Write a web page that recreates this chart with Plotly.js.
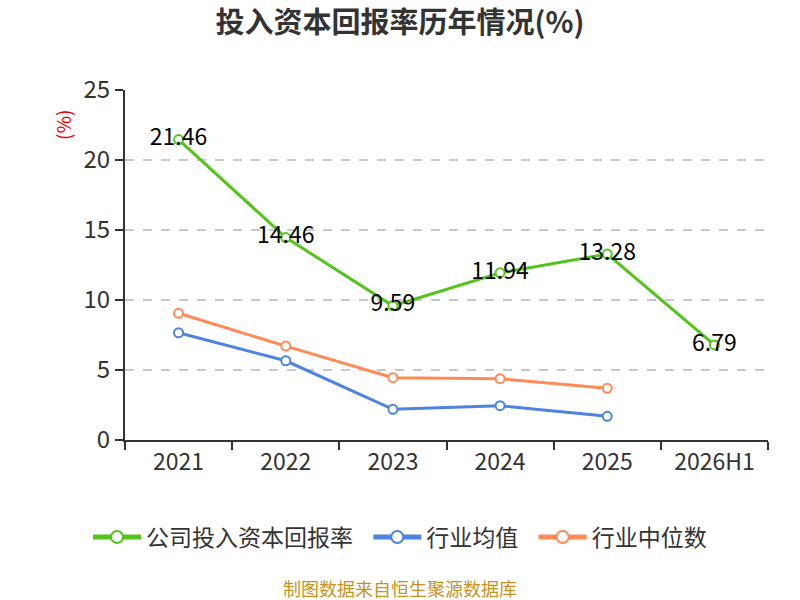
<!DOCTYPE html>
<html>
<head>
<meta charset="utf-8">
<script src="https://cdn.plot.ly/plotly-3.0.1.min.js"></script>
<style>
  html, body { margin: 0; padding: 0; background: #fff; }
  #chart { width: 800px; height: 600px; }
</style>
</head>
<body>
<div id="chart"></div>
<script>
const years = ['2021', '2022', '2023', '2024', '2025', '2026H1'];
const companyRoic = [21.46, 14.46, 9.59, 11.94, 13.28, 6.79];
const industryMean = [7.66, 5.66, 2.19, 2.45, 1.69, null];
const industryMedian = [9.05, 6.71, 4.45, 4.38, 3.69, null];

const font = '"Noto Sans CJK SC", "Noto Sans", sans-serif';
const gap = '\u00a0\u00a0';  // spacing between legend entries

function series(name, y, color, withText) {
    const t = {
        x: years,
        y: y,
        name: name,
        type: 'scatter',
        mode: withText ? 'lines+markers+text' : 'lines+markers',
        line: { color: color, width: 3 },
        marker: { symbol: 'circle', size: 9, color: '#fff', line: { color: color, width: 2 } },
        cliponaxis: false,
        hoverinfo: 'x+y',
    };
    if (withText) {
        t.text = y.map(v => v.toFixed(2));
        t.textposition = 'middle center';
        t.textfont = { family: font, size: 23, color: '#000' };
    }
    return t;
}

const data = [
    series('公司投入资本回报率' + gap, companyRoic, '#52c41a', true),
    series('行业均值' + gap, industryMean, '#4e83e0', false),
    series('行业中位数', industryMedian, '#ff8a55', false),
];

const layout = {
    width: 800,
    height: 600,
    margin: { l: 125, r: 32, t: 90, b: 160 },
    paper_bgcolor: '#fff',
    plot_bgcolor: '#fff',
    font: { family: font, color: '#333' },
    title: {
        text: '<b>投入资本回报率历年情况(%)</b>',
        font: { family: font, size: 29, color: '#333' },
        xref: 'container', x: 0.5, xanchor: 'center',
        yref: 'container', y: 0.962, yanchor: 'middle',
    },
    xaxis: {
        type: 'category',
        range: [-0.5, 5.5],
        tickson: 'boundaries',
        ticks: 'outside',
        ticklen: 8,
        tickwidth: 2,
        tickcolor: '#333',
        showline: true,
        linecolor: '#333',
        linewidth: 2,
        showgrid: false,
        tickfont: { family: font, size: 23, color: '#333' },
        fixedrange: true,
    },
    yaxis: {
        range: [0, 25],
        dtick: 5,
        ticks: 'outside',
        ticklen: 8,
        tickwidth: 2,
        tickcolor: '#333',
        showline: true,
        linecolor: '#333',
        linewidth: 2,
        showgrid: true,
        gridcolor: '#c8c8c8',
        griddash: 'dash',
        gridwidth: 1.5,
        zeroline: false,
        tickfont: { family: font, size: 24, color: '#333' },
        fixedrange: true,
    },
    showlegend: true,
    legend: {
        orientation: 'h',
        xref: 'container', x: 0.5, xanchor: 'center',
        yref: 'container', y: 1 - 537 / 600, yanchor: 'middle',
        font: { family: font, size: 23, color: '#333' },
        itemsizing: 'constant',
        itemwidth: 48,
        tracegroupgap: 0,
    },
    annotations: [
        {
            text: '(%)',
            xref: 'paper', yref: 'paper',
            x: (62 - 125) / 643, y: (440 - 125) / 350,
            xanchor: 'center', yanchor: 'middle',
            textangle: -90,
            showarrow: false,
            font: { family: font, size: 19, color: '#e00' },
        },
        {
            text: '制图数据来自恒生聚源数据库',
            xref: 'paper', yref: 'paper',
            x: (400 - 125) / 643, y: (440 - 588) / 350,
            xanchor: 'center', yanchor: 'middle',
            showarrow: false,
            font: { family: font, size: 18, color: '#c8921e' },
        },
    ],
};

Plotly.newPlot('chart', data, layout, { displayModeBar: false, staticPlot: true });
</script>
</body>
</html>
